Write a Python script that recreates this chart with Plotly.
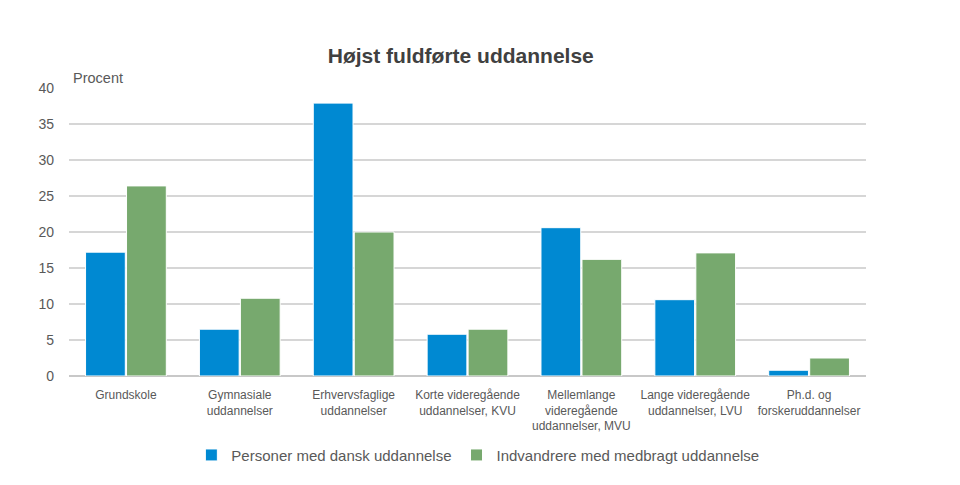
import plotly.graph_objects as go

categories = [
    "Grundskole",
    "Gymnasiale<br>uddannelser",
    "Erhvervsfaglige<br>uddannelser",
    "Korte videregående<br>uddannelser, KVU",
    "Mellemlange<br>videregående<br>uddannelser, MVU",
    "Lange videregående<br>uddannelser, LVU",
    "Ph.d. og<br>forskeruddannelser",
]
danish = [17.2, 6.5, 37.9, 5.8, 20.6, 10.6, 0.8]
immigrants = [26.4, 10.8, 20.0, 6.5, 16.2, 17.1, 2.5]
series_names = ["Personer med dansk uddannelse", "Indvandrere med medbragt uddannelse"]
y_ticks = [0, 5, 10, 15, 20, 25, 30, 35, 40]

FONT = "Liberation Sans, Arial, sans-serif"
GRAY = "#595959"

fig = go.Figure()
fig.add_trace(go.Bar(x=categories, y=danish, name=series_names[0],
                     marker=dict(color="#0089D2", line=dict(color="white", width=1))))
fig.add_trace(go.Bar(x=categories, y=immigrants, name=series_names[1],
                     marker=dict(color="#77A96E", line=dict(color="white", width=1))))

fig.update_layout(
    width=960, height=485,
    margin=dict(l=69, r=94, t=88, b=109),
    paper_bgcolor="white", plot_bgcolor="white",
    barmode="group", bargap=0.28, bargroupgap=0.03,
    font=dict(family=FONT, color=GRAY),
    title=dict(text="<b>Højst fuldførte uddannelse</b>", x=0.48, xanchor="center",
               y=1 - 56 / 485, yanchor="middle", yref="container",
               font=dict(size=21, color="#404040", family=FONT)),
    legend=dict(orientation="h", x=0.513, xanchor="center", y=-0.275, yanchor="middle",
                font=dict(size=15, color=GRAY, family=FONT), traceorder="normal",
                itemwidth=30),
    showlegend=True,
)
fig.update_yaxes(range=[0, 40], tickvals=y_ticks, showgrid=True, gridcolor="#D6D6D6",
                 gridwidth=1.5, zeroline=True, zerolinecolor="#C8C8C8", zerolinewidth=1.5,
                 tickfont=dict(size=14, color=GRAY), ticklabelstandoff=14, showline=False)
fig.update_xaxes(tickfont=dict(size=12, color=GRAY), showline=False, ticks="",
                 ticklabelstandoff=10)
fig.add_annotation(text="Procent", xref="paper", yref="paper", x=0, y=1, xanchor="left",
                   yanchor="bottom", xshift=2, yshift=0, showarrow=False,
                   font=dict(size=14.5, color=GRAY, family=FONT))

fig.write_html("out.html")
